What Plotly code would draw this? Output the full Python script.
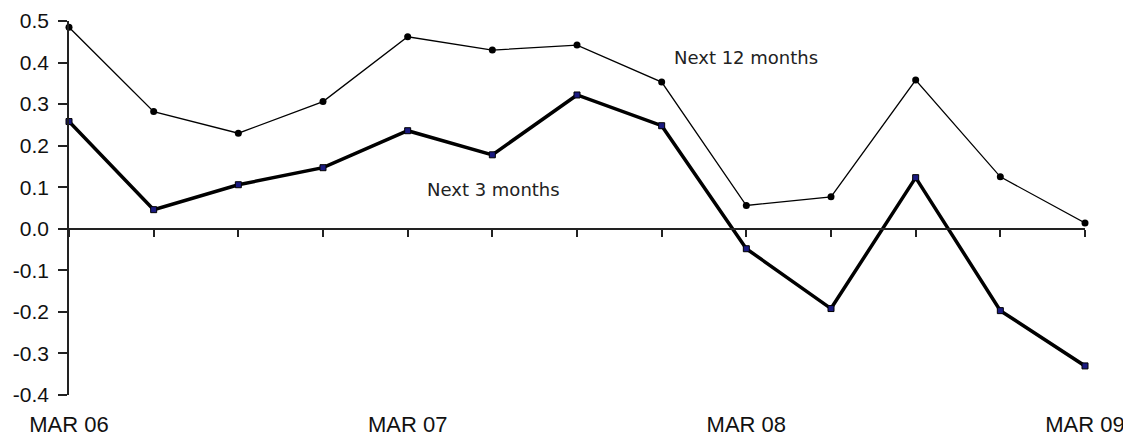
import plotly.graph_objects as go

quarters = ["MAR 06", "JUN 06", "SEP 06", "DEC 06", "MAR 07", "JUN 07", "SEP 07",
            "DEC 07", "MAR 08", "JUN 08", "SEP 08", "DEC 08", "MAR 09"]
next_12_months = [0.485, 0.282, 0.230, 0.306, 0.462, 0.430, 0.442,
                  0.353, 0.056, 0.077, 0.358, 0.125, 0.014]
next_3_months = [0.258, 0.046, 0.106, 0.147, 0.236, 0.178, 0.322,
                 0.248, -0.048, -0.192, 0.123, -0.197, -0.330]
label_ticks = ["MAR 06", "MAR 07", "MAR 08", "MAR 09"]
y_ticks = [0.5, 0.4, 0.3, 0.2, 0.1, 0.0, -0.1, -0.2, -0.3, -0.4]

xs = list(range(len(quarters)))
label_pos = [quarters.index(q) for q in label_ticks]

fig = go.Figure()
fig.add_trace(go.Scatter(
    x=xs, y=next_12_months, mode="lines+markers", name="Next 12 months",
    line=dict(color="black", width=1.3),
    marker=dict(symbol="circle", size=7, color="black"),
    cliponaxis=False,
))
fig.add_trace(go.Scatter(
    x=xs, y=next_3_months, mode="lines+markers", name="Next 3 months",
    line=dict(color="black", width=3.5),
    marker=dict(symbol="square", size=6, color="#1a1a80", line=dict(color="black", width=1)),
    cliponaxis=False,
))
# zero-line axis with quarterly ticks
fig.add_trace(go.Scatter(x=xs, y=[0] * len(xs), xaxis="x2", mode="lines",
                         line=dict(width=0), hoverinfo="skip", showlegend=False))

fig.add_annotation(x=7.12, y=0.413, text="Next 12 months", showarrow=False,
                   xanchor="left", yanchor="middle",
                   font=dict(family="DejaVu Sans", size=18, color="#222"))
fig.add_annotation(x=4.2, y=0.094, text="Next 3 months", showarrow=False,
                   xanchor="left", yanchor="middle",
                   font=dict(family="DejaVu Sans", size=18, color="#222"))

ymin, ymax = -0.4, 0.5
fig.update_layout(
    width=1123, height=433,
    margin=dict(l=61, r=46, t=13, b=46, autoexpand=False),
    paper_bgcolor="white", plot_bgcolor="white",
    showlegend=False,
    font=dict(family="Liberation Sans, Arial", color="#111"),
    xaxis=dict(
        range=[0, 12], tickmode="array", tickvals=label_pos, ticktext=label_ticks,
        showline=False, showgrid=False, zeroline=False, ticks="",
        tickfont=dict(size=22), ticklabelstandoff=14, automargin=False,
    ),
    xaxis2=dict(
        range=[0, 12], overlaying="x", anchor="free",
        position=(0 - ymin) / (ymax - ymin),
        tickmode="array", tickvals=xs, showticklabels=False,
        showline=True, linecolor="#222", linewidth=1.5,
        ticks="outside", ticklen=7, tickwidth=1.5, tickcolor="#222",
        showgrid=False, zeroline=False, automargin=False,
    ),
    yaxis=dict(
        range=[ymin, ymax], tickmode="array", tickvals=y_ticks,
        ticktext=[f"{v:.1f}" for v in y_ticks],
        showline=True, linecolor="#222", linewidth=1.5,
        ticks="outside", ticklen=9, tickwidth=1.5, tickcolor="#222",
        showgrid=False, zeroline=False, tickfont=dict(size=21), automargin=False,
        ticklabelstandoff=5,
    ),
)

fig.write_html("out.html")
